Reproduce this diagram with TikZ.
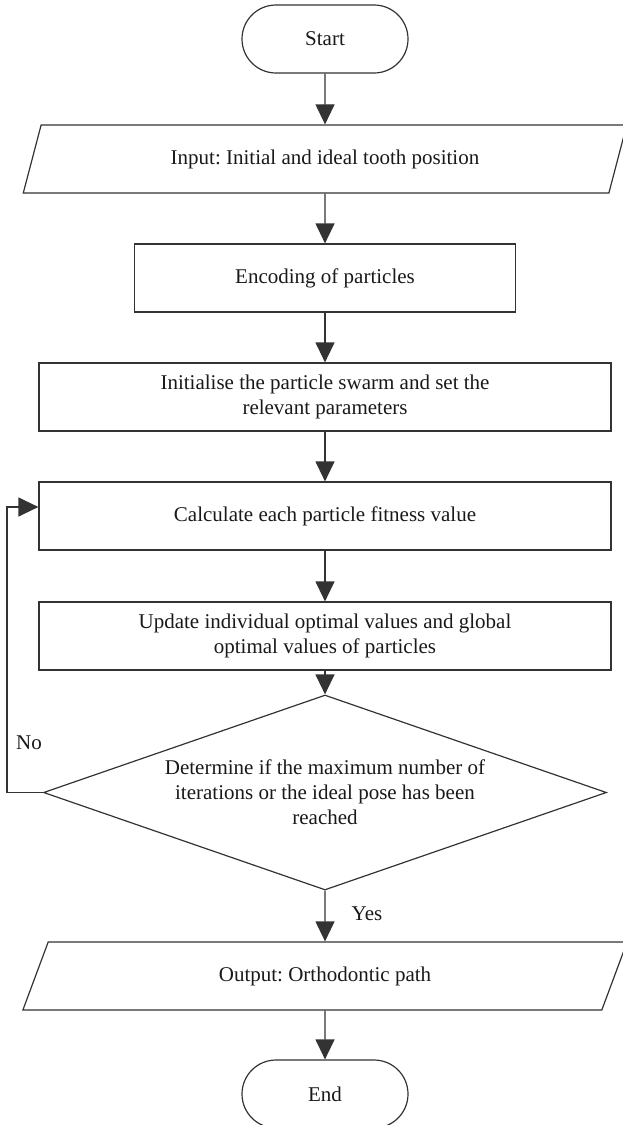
\documentclass[tikz,border=0pt]{standalone}
\usepackage{fontspec}
\setmainfont{Liberation Serif}
\frenchspacing
\usetikzlibrary{shapes.geometric,arrows.meta}
\begin{document}
\begin{tikzpicture}[x=1pt, y=-1pt, >={Triangle[width=19pt,length=20pt]},
    every node/.style={font=\fontsize{21}{25}\selectfont, text=black!90, align=center, inner sep=0pt},
    term/.style={draw=black!80, line width=1.2pt, rounded corners=34pt, minimum width=166pt, minimum height=68pt},
    io/.style={draw=black!80, line width=1.2pt, trapezium, trapezium left angle=63, trapezium right angle=117,
        trapezium stretches=true, minimum width=606pt, minimum height=68pt},
    proc/.style={draw=black!80, line width=1.2pt, minimum width=572pt, minimum height=68pt},
    decide/.style={draw=black!80, line width=1.2pt, diamond, aspect=2.89, minimum width=563pt, minimum height=195pt},
    flow/.style={->, draw=black!80, line width=1.2pt}]
\useasboundingbox (0,0) rectangle (623,1125);
\node[term] (start) at (325,39) {Start};
\node[io] (input) at (325,159) {Input: Initial and ideal tooth position};
\node[proc, minimum width=381pt] (enc) at (325,278) {Encoding of particles};
\node[proc] (init) at (325,397) {Initialise the particle swarm and set the\\relevant parameters};
\node[proc] (calc) at (325,516) {Calculate each particle fitness value};
\node[proc] (upd) at (325,636) {Update individual optimal values and global\\optimal values of particles};
\node[decide] (det) at (325,792.5) {Determine if the maximum number of\\iterations or the ideal pose has been\\reached};
\node[io] (output) at (325,976) {Output: Orthodontic path};
\node[term] (end) at (325,1094) {End};
\draw[flow] (start.south) -- (input.north);
\draw[flow] (input.south) -- (enc.north);
\draw[flow] (enc.south) -- (init.north);
\draw[flow] (init.south) -- (calc.north);
\draw[flow] (calc.south) -- (upd.north);
\draw[flow] (upd.south) -- (det.north);
\draw[flow] (det.south) -- (output.north);
\draw[flow] (output.south) -- (end.north);
% loop back when not reached
\draw[flow] (det.west) -- ++(-36,0) |- ([yshift=9pt]calc.west);
\node (no) at (29,743) {No};
\node (yes) at (367,914) {Yes};
\end{tikzpicture}
\end{document}
